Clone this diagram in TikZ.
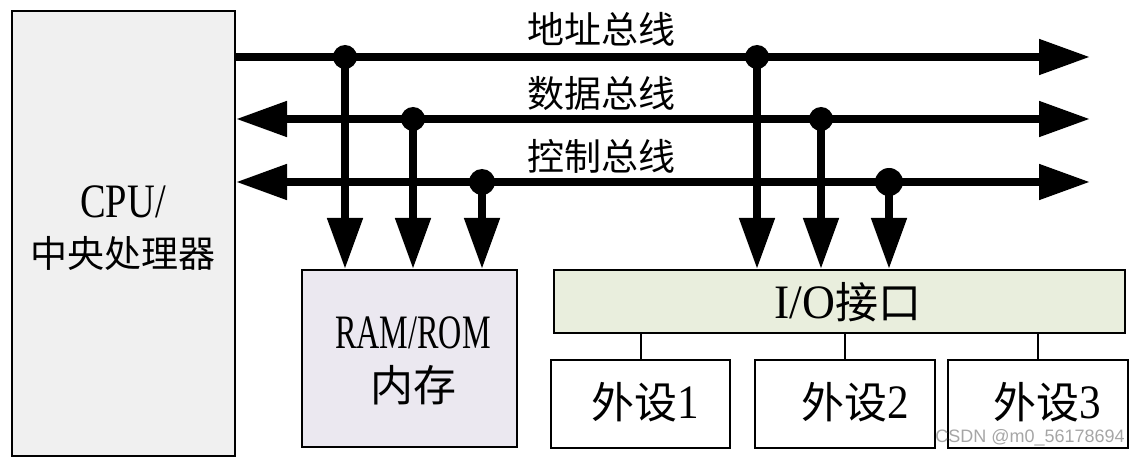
\documentclass[tikz,border=0pt]{standalone}
\usepackage{fontspec}
\usepackage{graphicx}
\newfontfamily\cjk{Noto Sans CJK SC}
\newfontfamily\latn{Liberation Serif}
\newfontfamily\wmfont{Liberation Sans}
\newcommand\latw[2]{\scalebox{#1}[1]{\fontsize{48}{50}\selectfont\latn #2}}
\usetikzlibrary{arrows.meta}
\definecolor{cpufill}{HTML}{F0F0F0}
\definecolor{ramfill}{HTML}{EBE8F0}
\definecolor{iofill}{HTML}{E9EEDD}
\begin{document}
\begin{tikzpicture}[x=1pt,y=-1pt,
  box/.style={draw, line width=2pt, inner sep=0pt},
  bus/.style={line width=8pt},
  bustip/.tip={Triangle[length=51pt,width=34pt]},
  dot/.style={circle, fill=black, inner sep=0pt, minimum size=#1},
  dot/.default=24pt,
  cjkt/.style={font=\fontsize{37}{50}\selectfont\cjk, inner sep=0pt, align=center},
  cjkb/.style={font=\fontsize{43}{53}\selectfont\cjk, inner sep=0pt, align=center},
  link/.style={line width=2pt}]
\useasboundingbox (0,0) rectangle (1133,457);
% boxes
\node[box, fill=cpufill, minimum width=223pt, minimum height=445pt] (cpu) at (123.5,233.5) {};
\node[box, fill=ramfill, minimum width=215pt, minimum height=177pt] (ram) at (409.5,358.5) {};
\node[box, fill=iofill, minimum width=571pt, minimum height=63pt] (io) at (839.5,301.5) {};
\node[box, minimum width=179pt, minimum height=88pt] (p1) at (640.5,404) {};
\node[box, minimum width=180pt, minimum height=88pt] (p2) at (845,404) {};
\node[box, minimum width=180pt, minimum height=88pt] (p3) at (1038,404) {};
% texts
\node[cjkt] (cputxt) at (123,228) {\latw{0.8}{CPU/}\\中央处理器};
\node[cjkb] (ramtxt) at (413,361) {\latw{0.67}{RAM/ROM}\\内存};
\node[cjkb] (iotxt) at (848,302) {\latw{0.95}{I/O}接口};
\node[cjkb] (p1t) at (645,402) {外设\latw{0.9}{1}};
\node[cjkb] (p2t) at (855,402) {外设\latw{0.9}{2}};
\node[cjkb] (p3t) at (1047,402) {外设\latw{0.9}{3}};
\node[cjkt] (alabel) at (601,29) {地址总线};
\node[cjkt] (dlabel) at (601,93) {数据总线};
\node[cjkt] (clabel) at (601,156) {控制总线};
% bus ends
\coordinate (aL) at (cpu.east |- 0,57);
\coordinate (aR) at (1090,57);
\coordinate (dL) at (cpu.east |- 0,119);
\coordinate (dR) at (1090,119);
\coordinate (cL) at (cpu.east |- 0,182);
\coordinate (cR) at (1090,182);
\draw[bus, -{bustip}] (aL) -- (aR);
\draw[bus, {bustip}-{bustip}] (dL) -- (dR);
\draw[bus, {bustip}-{bustip}] (cL) -- (cR);
% junctions
\node[dot] (a1) at (345,57) {};
\node[dot] (a2) at (757,57) {};
\node[dot] (d1) at (413,119) {};
\node[dot] (d2) at (821,119) {};
\node[dot=26pt] (c1) at (482,182) {};
\node[dot=28pt] (c2) at (889,182) {};
% drops
\draw[bus, -{bustip}] (a1.center) -- (a1.center |- ram.north);
\draw[bus, -{bustip}] (d1.center) -- (d1.center |- ram.north);
\draw[bus, -{bustip}] (c1.center) -- (c1.center |- ram.north);
\draw[bus, -{bustip}] (a2.center) -- (a2.center |- io.north);
\draw[bus, -{bustip}] (d2.center) -- (d2.center |- io.north);
\draw[bus, -{bustip}] (c2.center) -- (c2.center |- io.north);
% io to peripherals
\draw[link] (p1.north |- io.south) -- (p1.north);
\draw[link] (p2.north |- io.south) -- (p2.north);
\draw[link] (p3.north |- io.south) -- (p3.north);
% watermark
\node[font=\fontsize{18}{18}\selectfont\wmfont, text=black!35, inner sep=0pt] (wm) at (1030,438) {CSDN @m0\_56178694};
\end{tikzpicture}
\end{document}
